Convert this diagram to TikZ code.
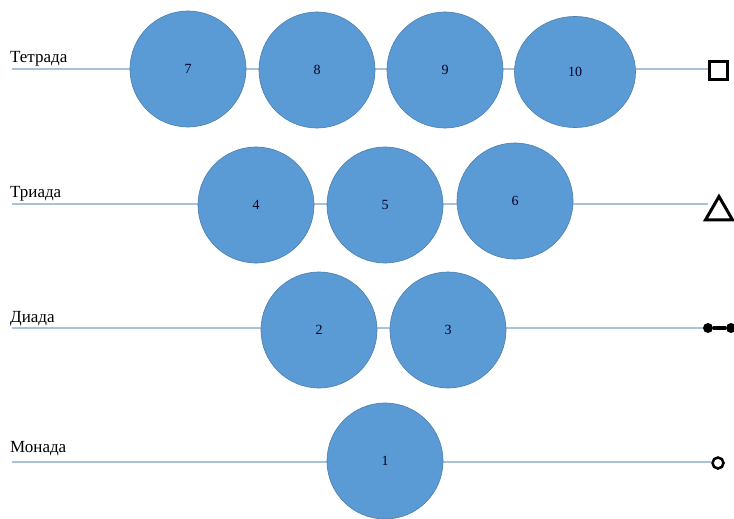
\documentclass[tikz,border=0pt]{standalone}
\usepackage{fontspec}
\setmainfont{Liberation Serif}
\usetikzlibrary{shapes.geometric}
\definecolor{ballblue}{HTML}{5B9BD5}
\definecolor{balledge}{HTML}{4A7DAE}
\definecolor{levelline}{HTML}{A9C1D9}

\begin{document}
\begin{tikzpicture}[x=1pt, y=-1pt,
    ball/.style={circle, fill=ballblue, draw=balledge, line width=0.6pt,
                 minimum size=116pt, inner sep=0pt, text=black!85!blue,
                 font=\fontsize{14}{14}\selectfont},
    level/.style={draw=levelline, line width=1.8pt},
    lvlname/.style={anchor=base west, inner sep=0pt,
                    font=\fontsize{17}{17}\selectfont},
    glyph/.style={draw=black, line width=3pt, inner sep=0pt},
    dot/.style={circle, fill=black, inner sep=0pt, minimum size=10pt}]
  \useasboundingbox (0,0) rectangle (734,519);

  % level names
  \node[lvlname] (ntetra) at (10,63) {Тетрада};
  \node[lvlname] (ntri) at (10,197) {Триада};
  \node[lvlname] (ndi) at (10,322) {Диада};
  \node[lvlname] (nmono) at (10,452) {Монада};

  % end symbols
  \node[glyph, minimum size=18pt] (sq) at (718,71) {};
  \node[glyph, regular polygon, regular polygon sides=3,
        minimum size=31pt] (tri) at (719,212) {};
  \node[dot] (dl) at (708,328) {};
  \node[dot] (dr) at (731,328) {};
  \draw[line width=3.5pt] (dl) -- (dr);
  \node[glyph, circle, line width=2.5pt, minimum size=11pt] (mo) at (718,463) {};

  % level lines
  \coordinate (t0) at (12,69);
  \coordinate (r0) at (12,204);
  \coordinate (d0) at (12,328);
  \coordinate (m0) at (12,462);
  \draw[level] (t0) -- (t0 -| sq.west);
  \draw[level] (r0) -- (r0 -| tri.west);
  \draw[level] (d0) -- (dl);
  \draw[level] (m0) -- (m0 -| mo.west);

  % tetrada
  \node[ball] (b7) at (188,69) {7};
  \node[ball] (b8) at (317,70) {8};
  \node[ball] (b9) at (445,70) {9};
  \node[ball, ellipse, minimum width=121pt, minimum height=111pt]
    (b10) at (575,72) {10};
  % triada
  \node[ball] (b4) at (256,205) {4};
  \node[ball] (b5) at (385,205) {5};
  \node[ball] (b6) at (515,201) {6};
  % diada
  \node[ball] (b2) at (319,330) {2};
  \node[ball] (b3) at (448,330) {3};
  % monada
  \node[ball] (b1) at (385,461) {1};
\end{tikzpicture}
\end{document}
